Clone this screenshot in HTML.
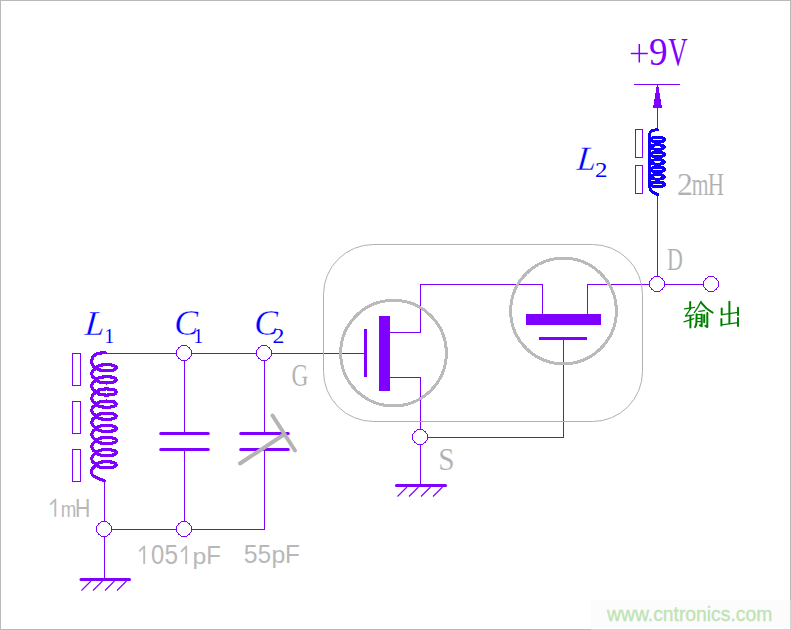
<!DOCTYPE html>
<html><head><meta charset="utf-8">
<style>
html,body{margin:0;padding:0;background:#fff;}
body{width:791px;height:630px;overflow:hidden;position:relative;}
svg{position:absolute;left:0;top:0;display:block;}
.w{stroke:#8000ff;stroke-width:1;fill:none;shape-rendering:crispEdges;}
.n{stroke:#8000ff;stroke-width:1;fill:#fff;shape-rendering:crispEdges;}
.sans{font-family:"Liberation Sans",sans-serif;}
.serif{font-family:"Liberation Serif",serif;}
</style></head>
<body>
<svg width="791" height="630" viewBox="0 0 791 630">
<!-- border -->
<path d="M0.5,629V0.5H790.5V600M0,629.5H591" fill="none" stroke="#b9b9b9" stroke-width="1" shape-rendering="crispEdges"/>
<path d="M790.5,600V630M591,629.5H790" fill="none" stroke="#d2d2d2" stroke-width="1" shape-rendering="crispEdges"/>
<!-- watermark box -->
<rect x="591" y="600" width="199" height="28" fill="#fcfcfc"/>


<!-- wires -->
<g class="w">
  <!-- top rail -->
  <path d="M105 353.5H364"/>
  <!-- bottom rail -->
  <path d="M104 529.5H264.5V449"/>
  <!-- L1 tail -->
  <path d="M104.5 480V579"/>
  <!-- C1 -->
  <path d="M184.5 353V433M184.5 449V529"/>
  <!-- C2 -->
  <path d="M264.5 353V433"/>
  <!-- left transistor drain -->
  <path d="M390 332.5H420.5V284.5H542.5V314"/>
  <!-- left transistor source -->
  <path d="M390 377.5H420.5V485"/>
  <!-- S to right gate -->
  <path d="M420 437.5H563.5V340"/>
  <!-- right drain to D -->
  <path d="M587.5 314V284.5H711"/>
  <!-- D up to L2 -->
  <path d="M657.5 284V195M657.5 129V84"/>
  <!-- +9V bar -->
  <path d="M634 84.5H680"/>
</g>

<!-- rounded rect -->
<rect x="323.5" y="244.5" width="319" height="177" rx="50" ry="50" fill="none" stroke="#b0b0b0" stroke-width="1"/>
<!-- +9V arrow -->
<path d="M656,87H659V93H660V99H661V105H662V108H653V105H654V99H655V93H656Z" fill="#8000ff" shape-rendering="crispEdges"/>

<!-- L1 rectangles -->
<g fill="none" stroke="#8000ff" stroke-width="1" shape-rendering="crispEdges">
  <rect x="72.5" y="353.5" width="8" height="32"/>
  <rect x="72.5" y="401.5" width="8" height="32"/>
  <rect x="72.5" y="449.5" width="8" height="32"/>
  <rect x="635.5" y="129.5" width="7" height="28"/>
  <rect x="635.5" y="165.5" width="7" height="28"/>
</g>

<!-- L1 coil -->
<g fill="none" stroke="#8000ff" stroke-width="3.1" stroke-linecap="round" shape-rendering="crispEdges">
<path d="M105.5,352.8 C98,352.6 92,354.5 91.8,360.5 C91.6,364.5 93,367.5 97,367.75 M97.3,368.25 C93,369.25 91.8,371.25 91.8,373.81 C91.8,376.38 93,378.38 97.3,379.38 M97.3,380.38 C93,381.38 91.8,383.38 91.8,385.94 C91.8,388.51 93,390.51 97.3,391.51 M97.3,392.51 C93,393.51 91.8,395.51 91.8,398.07 C91.8,400.64 93,402.64 97.3,403.64 M97.3,404.64 C93,405.64 91.8,407.64 91.8,410.20 C91.8,412.77 93,414.77 97.3,415.77 M97.3,416.77 C93,417.77 91.8,419.77 91.8,422.33 C91.8,424.90 93,426.90 97.3,427.90 M97.3,428.90 C93,429.90 91.8,431.90 91.8,434.46 C91.8,437.03 93,439.03 97.3,440.03 M97.3,441.03 C93,442.03 91.8,444.03 91.8,446.60 C91.8,449.16 93,451.16 97.3,452.16 M97.3,453.16 C93,454.16 91.8,456.16 91.8,458.73 C91.8,461.29 93,463.29 97.3,464.29 M97.3,465.29 C93,466.29 91.6,468.79 91.6,472.79 C91.6,476.79 97,477.79 104.5,480.79"/>
<ellipse cx="106.7" cy="367.75" rx="9.7" ry="3.1"/>
<ellipse cx="106.7" cy="379.88" rx="9.7" ry="3.1"/>
<ellipse cx="106.7" cy="392.01" rx="9.7" ry="3.1"/>
<ellipse cx="106.7" cy="404.14" rx="9.7" ry="3.1"/>
<ellipse cx="106.7" cy="416.27" rx="9.7" ry="3.1"/>
<ellipse cx="106.7" cy="428.40" rx="9.7" ry="3.1"/>
<ellipse cx="106.7" cy="440.53" rx="9.7" ry="3.1"/>
<ellipse cx="106.7" cy="452.66" rx="9.7" ry="3.1"/>
<ellipse cx="106.7" cy="464.79" rx="9.7" ry="3.1"/>
</g>
<g fill="none" stroke="#1000ff" stroke-width="3" stroke-linecap="round" shape-rendering="crispEdges">
<path d="M657.5,129.8 C653,129.8 649.7,131 649.7,134 V186.36 C649.7,190.36 652,192.86 657.5,194.36"/>
<ellipse cx="657.6" cy="139.60" rx="6.8" ry="2.3"/>
<ellipse cx="657.6" cy="147.06" rx="6.8" ry="2.3"/>
<ellipse cx="657.6" cy="154.52" rx="6.8" ry="2.3"/>
<ellipse cx="657.6" cy="161.98" rx="6.8" ry="2.3"/>
<ellipse cx="657.6" cy="169.44" rx="6.8" ry="2.3"/>
<ellipse cx="657.6" cy="176.90" rx="6.8" ry="2.3"/>
<ellipse cx="657.6" cy="184.36" rx="6.8" ry="2.3"/>
</g>

<!-- capacitor plates -->
<g stroke="#8000ff" stroke-width="3" stroke-linecap="round">
  <path d="M160.7 433.5H208.3M160.7 449.5H208.3"/>
  <path d="M240.7 433.5H288.3M240.7 449.5H288.3"/>
</g>
<!-- variable cap arrow -->
<g stroke="#b4b4b4" stroke-width="4" stroke-linecap="round" fill="none">
  <path d="M240 463.5L284 434.5"/>
  <path d="M272.5 415.5L295 450.5"/>
</g>

<!-- transistor circles -->
<circle cx="393.5" cy="353.1" r="52.8" fill="none" stroke="#bababa" stroke-width="3" shape-rendering="crispEdges"/>
<circle cx="563.5" cy="311" r="52.8" fill="none" stroke="#bababa" stroke-width="3" shape-rendering="crispEdges"/>
<!-- left transistor -->
<rect x="364" y="329" width="3" height="48" fill="#8000ff"/>
<rect x="379" y="316" width="11" height="75" fill="#8000ff"/>
<!-- right transistor -->
<rect x="526" y="314" width="75" height="11" fill="#8000ff"/>
<rect x="539" y="337" width="48" height="3" fill="#8000ff"/>

<!-- ground symbols -->
<g stroke="#8000ff">
  <path d="M81 579.5H129.5" stroke-width="3" stroke-linecap="round"/>
  <path d="M81.5 590.5L91 581M93 590.5L102.5 581M105 590.5L114.5 581M117 590.5L126.5 581" stroke-width="1.1"/>
  <path d="M396.5 485.5H445.5" stroke-width="3" stroke-linecap="round"/>
  <path d="M397.5 496.5L407 487M409 496.5L418.5 487M421 496.5L430.5 487M433 496.5L442.5 487" stroke-width="1.1"/>
</g>

<!-- nodes -->
<g class="n">
  <circle cx="184" cy="353" r="7.5"/>
  <circle cx="264" cy="353" r="7.5"/>
  <circle cx="104" cy="529" r="7.5"/>
  <circle cx="184" cy="529" r="7.5"/>
  <circle cx="420" cy="437" r="7.5"/>
  <circle cx="657" cy="284" r="7.5"/>
  <circle cx="711" cy="284" r="7.5"/>
</g>

<!-- labels -->
<g fill="#0000ff" font-family="Liberation Serif" stroke="#fff" stroke-width="0.35">
  <text transform="translate(84.26,334.8) skewX(-5) scale(1.0,1)" font-size="35.2" font-style="italic">L</text>
  <text transform="translate(104.6,343) scale(0.896,1)" font-size="21.4" stroke="none">1</text>
  <text transform="translate(174.2,334.6) scale(0.995,1)" font-size="36" font-style="italic">C</text>
  <text transform="translate(193.5,342.9) scale(0.889,1)" font-size="21.5" stroke="none">1</text>
  <text transform="translate(254.2,334.6) scale(0.991,1)" font-size="36" font-style="italic">C</text>
  <text transform="translate(272.5,342.9) scale(1.112,1)" font-size="21.4" stroke="none">2</text>
  <text transform="translate(576.35,170) skewX(-5) scale(1.0,1)" font-size="34.3" font-style="italic">L</text>
  <text transform="translate(594.9,177.4) scale(1.222,1)" font-size="20.45" stroke="none">2</text>
</g>
<g fill="#b0b0b0" font-family="Liberation Serif" stroke="#fff" stroke-width="0.15">
  <text transform="translate(676.97,194.60) scale(1.007,1)" font-size="31.52">2</text>
  <text transform="translate(691.67,194.60) scale(0.677,1)" font-size="31.91">m</text>
  <text transform="translate(707.82,194.60) scale(0.721,1)" font-size="31.30">H</text>
  <text transform="translate(666.94,270.00) scale(0.680,1)" font-size="32.37">D</text>
  <text transform="translate(291.46,386.29) scale(0.761,1)" font-size="30.75">G</text>
  <text transform="translate(438.30,469.68) scale(0.926,1)" font-size="31.64">S</text>
</g>
<g fill="#8000ff" font-family="Liberation Serif">
  <text transform="translate(648.98,65.30) scale(0.934,1)" font-size="39.85">9</text>
  <text transform="translate(668.13,65.39) scale(0.661,1)" font-size="40.60">V</text>
</g>
<path d="M630.8,53.5H647.8M639.3,44.1V62.6" stroke="#8000ff" stroke-width="1.5" fill="none"/>
<g fill="#b8b8b8" font-family="Liberation Sans">
  <text transform="translate(60.78,516.70) scale(0.828,1)" font-size="22.59">m</text>
  <text transform="translate(75.10,516.70) scale(0.833,1)" font-size="25.51">H</text>
  <text transform="translate(150.95,564.42) scale(0.862,1)" font-size="27.61">0</text>
  <text transform="translate(164.52,564.43) scale(0.909,1)" font-size="26.86">5</text>
  <text transform="translate(192.38,564.08) scale(1.084,1)" font-size="22.95">p</text>
  <text transform="translate(206.19,563.90) scale(0.920,1)" font-size="25.94">F</text>
  <text transform="translate(243.71,563.04) scale(0.955,1)" font-size="26.00">5</text>
  <text transform="translate(257.84,563.04) scale(0.923,1)" font-size="26.00">5</text>
  <text transform="translate(271.48,563.15) scale(1.078,1)" font-size="23.09">p</text>
  <text transform="translate(284.96,563.00) scale(0.936,1)" font-size="25.94">F</text>
</g>
<g fill="none" stroke="#bcbcbc" stroke-width="1.9" stroke-linejoin="round">
  <path d="M50.2,504.6 L55.3,499.6 V516.7"/>
  <path d="M139.2,551.4 L144.2,546.4 V563.9"/>
  <path d="M181.1,551.8 L186.2,546.4 V563.9"/>
</g>
<!-- 输出 -->
<g fill="none" stroke="#008000" stroke-width="1.3" stroke-linecap="round" stroke-linejoin="round">
  <path d="M684.5,308.8 L694.5,307.3"/>
  <path d="M689.8,309.8 L685.5,316.2 L693.8,314.8"/>
  <path d="M684,321.8 L693.8,318.6"/>
  <path d="M701.1,301.4 Q698,308 694.3,312.6"/>
  <path d="M698.9,311.3 L704.6,310.6"/>
  <path d="M696.6,314.6 L701.7,314.6"/>
  <path d="M697.1,318.4 L701.4,318.4 M697.1,321.6 L701.4,321.6"/>
  <path d="M722,314.6 L738,312.4"/>
  <path d="M721.6,324.8 L738,322.6"/>
</g>
<g fill="none" stroke="#008000" stroke-width="2" stroke-linecap="round" stroke-linejoin="round">
  <path d="M690.2,302 L690.2,309 M690.4,316 L690.4,327.6"/>
  <path d="M701.1,302.6 Q706,309 712.6,312.6"/>
  <path d="M696.6,314.3 L696.4,323 Q696,326 695,327.1"/>
  <path d="M701.7,314.6 L701.7,326.3 L699.8,325.2"/>
  <path d="M704.2,314.9 L704.2,322.3"/>
  <path d="M707.3,313.1 L707.3,327.1 L705.3,325.7"/>
  <path d="M729.4,301.8 L729.4,323.2"/>
  <path d="M721.7,308.6 L721.7,314.6"/>
  <path d="M738,307.8 L738,315"/>
  <path d="M721.4,318.9 L721.4,325.4"/>
  <path d="M738,318 L738,326.1"/>
</g>
<text transform="translate(607,621) scale(0.966,1)" font-size="20" fill="#bfe3b4" stroke="#bfe3b4" stroke-width="0.35" font-family="Liberation Sans">www.cntronics.com</text>
</svg>
</body></html>
